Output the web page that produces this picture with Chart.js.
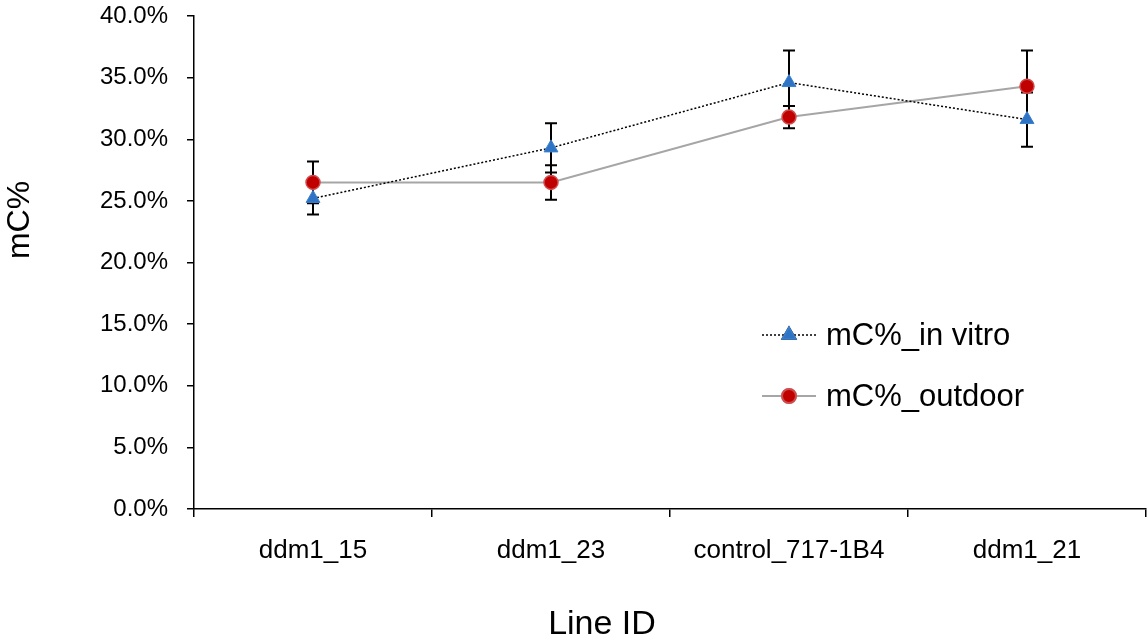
<!DOCTYPE html>
<html>
<head>
<meta charset="utf-8">
<script src="https://cdn.jsdelivr.net/npm/chart.js@4/dist/chart.umd.min.js"></script>
<style>
  html,body{margin:0;padding:0;background:#fff;overflow:hidden;}
  #wrap{width:1148px;height:642px;position:relative;}
</style>
</head>
<body>
<div id="wrap"><canvas id="chart"></canvas></div>
<script>
/* ===== Data ===== */
const categories = ['ddm1_15', 'ddm1_23', 'control_717-1B4', 'ddm1_21'];
const inVitro     = [25.2, 29.3, 34.6, 31.6];
const inVitroErr  = [1.3, 2.0, 2.6, 2.2];
const outdoor     = [26.5, 26.5, 31.8, 34.3];
const outdoorErr  = [1.7, 1.4, 0.9, 2.9];
const yTicks      = [0, 5, 10, 15, 20, 25, 30, 35, 40];

const FONT = 'Arial, "Liberation Sans", sans-serif';

/* ===== Error bars, drawn under the markers ===== */
const errorBars = {
  id: 'errorBars',
  beforeDatasetsDraw(chart){
    const {ctx, scales:{x, y}} = chart;
    const errs = [inVitroErr, outdoorErr];
    ctx.save();
    ctx.strokeStyle = '#000'; ctx.lineWidth = 2;
    chart.data.datasets.forEach((ds, di) => {
      ds.data.forEach((v, i) => {
        const px = x.getPixelForValue(i);
        const top = y.getPixelForValue(v + errs[di][i]);
        const bot = y.getPixelForValue(v - errs[di][i]);
        ctx.beginPath();
        ctx.moveTo(px, top); ctx.lineTo(px, bot);
        ctx.moveTo(px - 6, top); ctx.lineTo(px + 6, top);
        ctx.moveTo(px - 6, bot); ctx.lineTo(px + 6, bot);
        ctx.stroke();
      });
    });
    ctx.restore();
  }
};

/* ===== Titles + legend (placed like the original) ===== */
const decorations = {
  id: 'decorations',
  afterDraw(chart){
    const {ctx} = chart;
    ctx.save();
    ctx.fillStyle = '#000';
    // axis titles
    ctx.font = '34px ' + FONT;
    ctx.textAlign = 'center'; ctx.textBaseline = 'middle';
    ctx.fillText('Line ID', 602, 625);
    ctx.translate(20, 220); ctx.rotate(-Math.PI/2);
    ctx.font = '32px ' + FONT;
    ctx.fillText('mC%', 0, 0);
    ctx.setTransform(1,0,0,1,0,0);

    // legend
    const rows = [
      {label:'mC%_in vitro', y:335, ds:chart.data.datasets[0]},
      {label:'mC%_outdoor',  y:396, ds:chart.data.datasets[1]}
    ];
    rows.forEach(r => {
      ctx.save();
      ctx.strokeStyle = r.ds.borderColor; ctx.lineWidth = r.ds.borderWidth;
      ctx.setLineDash(r.ds.borderDash || []);
      ctx.beginPath(); ctx.moveTo(762, r.y); ctx.lineTo(816, r.y); ctx.stroke();
      ctx.setLineDash([]);
      Chart.helpers.drawPoint(ctx, {
        pointStyle: r.ds.pointStyle, radius: r.ds.pointRadius, borderWidth: r.ds.pointBorderWidth
      }, 789, r.y);
      ctx.fillStyle = r.ds.pointBackgroundColor; ctx.strokeStyle = r.ds.pointBorderColor;
      ctx.fill(); ctx.stroke();
      ctx.restore();
      ctx.fillStyle = '#000';
      ctx.font = '31px ' + FONT;
      ctx.textAlign = 'left'; ctx.textBaseline = 'middle';
      ctx.fillText(r.label, 826, r.y + 1);
    });
    ctx.restore();
  }
};

new Chart(document.getElementById('chart'), {
  type: 'line',
  data: {
    labels: categories,
    datasets: [
      {label:'mC%_in vitro', data: inVitro,
       borderColor:'#000', borderWidth:1.5, borderDash:[2,2], tension:0,
       pointStyle:'triangle', pointRadius:8, pointBackgroundColor:'#2F74C4',
       pointBorderColor:'#3B80CF', pointBorderWidth:1},
      {label:'mC%_outdoor', data: outdoor,
       borderColor:'#A6A6A6', borderWidth:2, tension:0,
       pointStyle:'circle', pointRadius:7, pointBackgroundColor:'#C00000',
       pointBorderColor:'#D24A4A', pointBorderWidth:1.5}
    ]
  },
  options: {
    responsive: true, maintainAspectRatio: false, animation: false,
    layout: { autoPadding: false, padding: {top:16, right:2, left:0, bottom:0} },
    plugins: { legend:{display:false}, tooltip:{enabled:false} },
    scales: {
      x: {
        offset: true,
        grid: { offset:true, drawOnChartArea:false, drawTicks:true, tickLength:8, color:'#000', lineWidth:1.5 },
        border: { color:'#000', width:1.5 },
        ticks: { color:'#000', font:{family:FONT, size:26}, padding:18, maxRotation:0 },
        afterFit(s){ s.height = 133; s.paddingLeft = 0; s.paddingRight = 0; }
      },
      y: {
        min: 0, max: 40,
        afterBuildTicks(s){ s.ticks = yTicks.map(v => ({value:v})); },
        grid: { drawOnChartArea:false, drawTicks:true, tickLength:7, color:'#000', lineWidth:1.5 },
        border: { color:'#000', width:1.5 },
        ticks: { color:'#000', font:{family:FONT, size:24}, padding:19,
                 callback: v => v.toFixed(1) + '%' },
        afterFit(s){ s.width = 194; s.paddingTop = 0; s.paddingBottom = 0; }
      }
    }
  },
  plugins: [errorBars, decorations]
});
</script>
</body>
</html>
